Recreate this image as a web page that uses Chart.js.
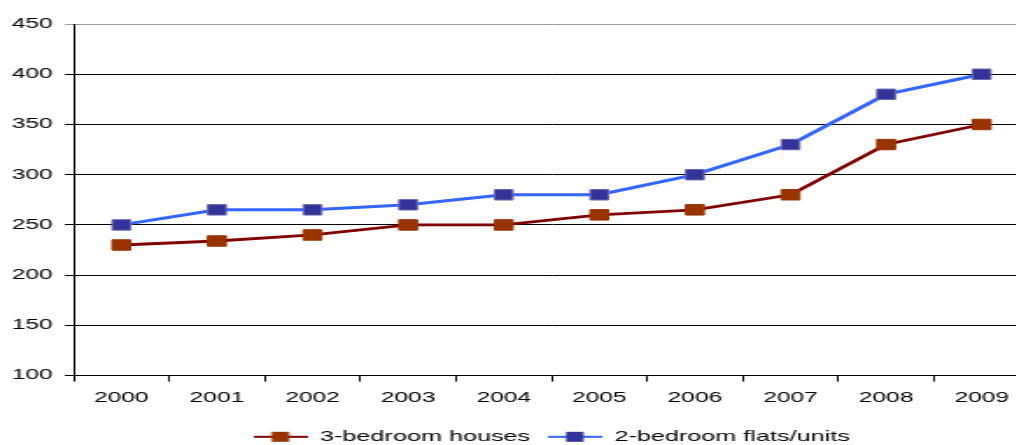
<!DOCTYPE html>
<html>
<head>
<meta charset="utf-8">
<script src="https://cdn.jsdelivr.net/npm/chart.js@4/dist/chart.umd.min.js"></script>
<style>
  html, body { margin: 0; padding: 0; background: #fff; overflow: hidden; }
  #wrap { width: 1016px; height: 445px; overflow: hidden; position: relative; }
</style>
</head>
<body>
<div id="wrap">
  <!-- the original picture is stretched sideways, so the canvas is drawn narrow and widened -->
  <canvas id="chart" width="630" height="454" style="display:block;width:1103px;height:454px"></canvas>
</div>
<script>
    // Data
    const years = ['2000', '2001', '2002', '2003', '2004', '2005', '2006', '2007', '2008', '2009'];
    const houses3 = [230, 234, 240, 250, 250, 260, 265, 280, 330, 350];
    const flats2 = [250, 265, 265, 270, 280, 280, 300, 330, 380, 400];
    const seriesNames = ['3-bedroom houses', '2-bedroom flats/units'];

    const yMin = 100;
    const yMax = 450;
    const yStep = 50;

    Chart.defaults.font.family = '"Liberation Sans", Arial, sans-serif';
    Chart.defaults.font.size = 14;
    Chart.defaults.color = '#000';

    // small line + square icons for the legend
    function legendIcon(lineColor, boxColor) {
        const c = document.createElement('canvas');
        c.width = 31;
        c.height = 12;
        const g = c.getContext('2d');
        g.fillStyle = lineColor;
        g.fillRect(0, 5, 31, 2);
        g.fillStyle = boxColor;
        g.fillRect(10.5, 1, 10, 10);
        return c;
    }
    const icons = [legendIcon('#800000', '#993300'), legendIcon('#3366ff', '#333399')];

    const ctx = document.getElementById('chart').getContext('2d');
    const chart = new Chart(ctx, {
        type: 'line',
        data: {
            labels: years,
            datasets: [
                {
                    label: seriesNames[0],
                    data: houses3,
                    borderColor: '#800000',
                    borderWidth: 2.8,
                    pointStyle: 'rect',
                    pointRadius: 7.4,
                    pointBackgroundColor: '#993300',
                    pointBorderColor: '#993300',
                    pointBorderWidth: 1,
                    tension: 0,
                },
                {
                    label: seriesNames[1],
                    data: flats2,
                    borderColor: '#3366ff',
                    borderWidth: 3,
                    pointStyle: 'rect',
                    pointRadius: 7.4,
                    pointBackgroundColor: '#333399',
                    pointBorderColor: '#6a6ab0',
                    pointBorderWidth: 1,
                    tension: 0,
                },
            ],
        },
        options: {
            responsive: false,
            animation: false,
            devicePixelRatio: 1,
            layout: { padding: { top: 24, left: 0, right: 0, bottom: 0 } },
            plugins: {
                tooltip: { enabled: false },
                legend: {
                    position: 'bottom',
                    labels: {
                        usePointStyle: true,
                        pointStyleWidth: 31,
                        padding: 10,
                        color: '#000',
                        font: { size: 14.4 },
                        generateLabels: function (ch) {
                            return ch.data.datasets.map(function (ds, i) {
                                return {
                                    text: ds.label,
                                    pointStyle: icons[i],
                                    fillStyle: ds.pointBackgroundColor,
                                    strokeStyle: ds.borderColor,
                                    lineWidth: 0,
                                    hidden: false,
                                    datasetIndex: i,
                                    fontColor: '#000',
                                };
                            });
                        },
                    },
                },
            },
            scales: {
                x: {
                    offset: true,
                    grid: {
                        offset: true,
                        drawOnChartArea: false,
                        drawTicks: true,
                        tickLength: 6,
                        color: '#000',
                    },
                    border: { display: true, color: '#000', width: 1 },
                    ticks: { padding: 8, color: '#000', maxRotation: 0, autoSkip: false },
                    afterFit: function (scale) { scale.height = 44; },
                },
                y: {
                    min: yMin,
                    max: yMax,
                    ticks: { stepSize: yStep, padding: 7, color: '#000' },
                    grid: {
                        color: function (c) { return c.tick && c.tick.value === yMax ? '#999' : '#000'; },
                        lineWidth: 1,
                        tickLength: 5,
                    },
                    border: { display: true, color: '#000', width: 1 },
                    afterFit: function (scale) { scale.width = 42; },
                },
                // empty right axis so the legend centres where the original did
                y2: {
                    position: 'right',
                    display: true,
                    grid: { display: false },
                    border: { display: false },
                    ticks: { display: false },
                    afterFit: function (scale) { scale.width = 42; },
                },
            },
        },
    });
</script>
</body>
</html>
